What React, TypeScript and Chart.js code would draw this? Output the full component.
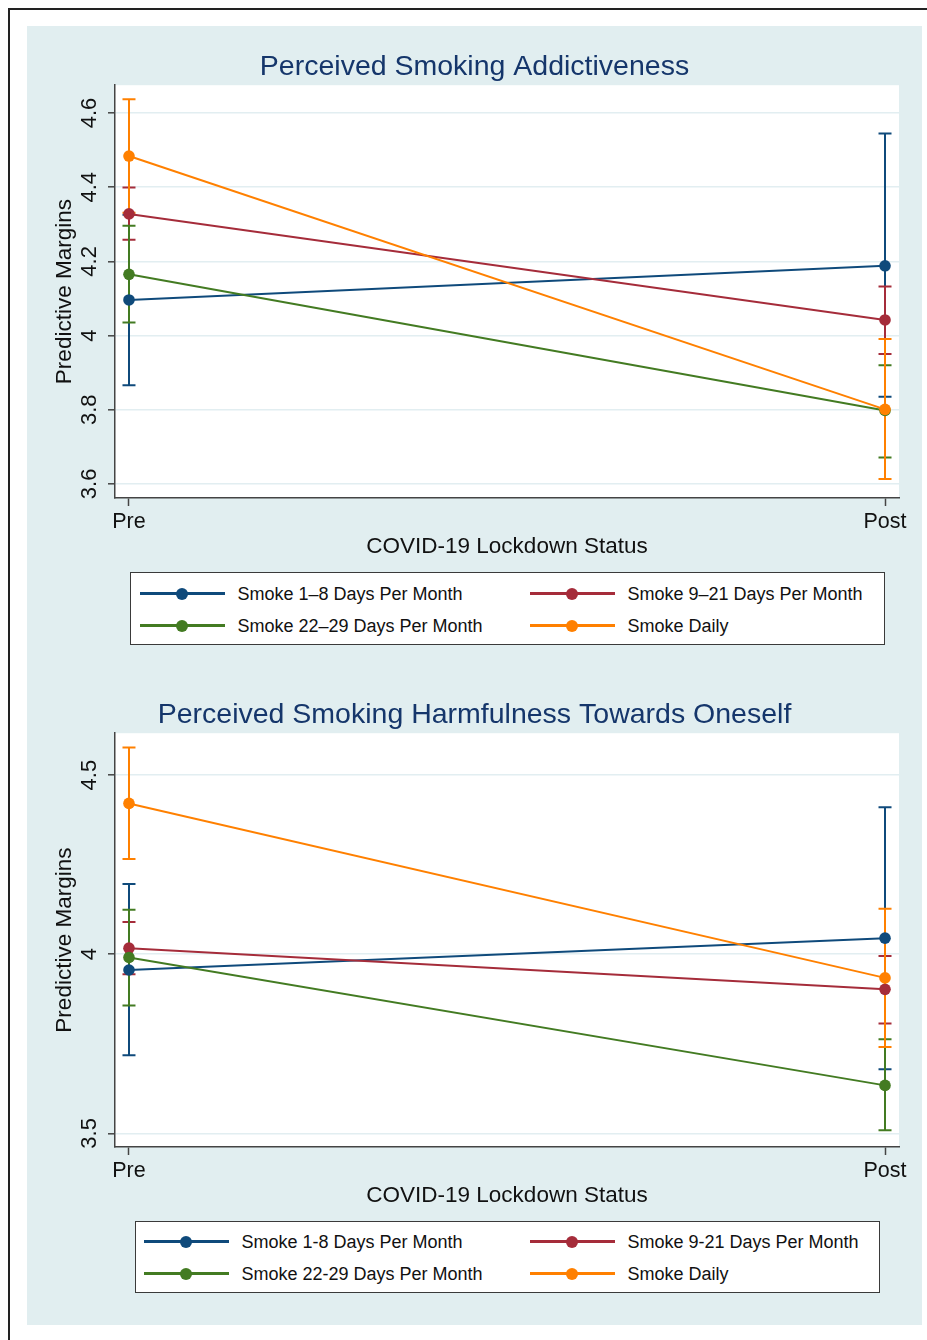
import React, { useEffect, useRef } from 'react';
import { Chart, registerables } from 'chart.js';

Chart.register(...registerables);

const FONT = '"Liberation Sans", Arial, Helvetica, sans-serif';
Chart.defaults.font.family = FONT;

const periods = ['Pre', 'Post'];
const seriesColors = ['#0f4a7b', '#a52c3a', '#437b22', '#ff8000'];

const namesTop = ['Smoke 1–8 Days Per Month', 'Smoke 9–21 Days Per Month', 'Smoke 22–29 Days Per Month', 'Smoke Daily'];
const namesBottom = ['Smoke 1-8 Days Per Month', 'Smoke 9-21 Days Per Month', 'Smoke 22-29 Days Per Month', 'Smoke Daily'];

// Perceived Smoking Addictiveness — values per series: [Pre, Post]
const addictMargin = [[4.096, 4.188], [4.328, 4.042], [4.165, 3.798], [4.484, 3.801]];
const addictLower = [[3.866, 3.835], [4.258, 3.950], [4.035, 3.671], [4.331, 3.613]];
const addictUpper = [[4.326, 4.545], [4.399, 4.132], [4.296, 3.920], [4.637, 3.991]];
const addictTicks = [3.6, 3.8, 4, 4.2, 4.4, 4.6];

// Perceived Smoking Harmfulness Towards Oneself — values per series: [Pre, Post]
const harmMargin = [[3.956, 4.045], [4.017, 3.902], [3.991, 3.634], [4.421, 3.934]];
const harmLower = [[3.718, 3.679], [3.944, 3.807], [3.857, 3.509], [4.266, 3.741]];
const harmUpper = [[4.196, 4.410], [4.090, 3.995], [4.124, 3.763], [4.577, 4.127]];
const harmTicks = [3.5, 4, 4.5];

const plotBg = {
  id: 'plotBg',
  beforeDraw(chart: any) {
    const { ctx, chartArea } = chart;
    ctx.save();
    ctx.fillStyle = '#ffffff';
    ctx.fillRect(chartArea.left, chartArea.top, chartArea.right - chartArea.left, chartArea.bottom - chartArea.top);
    ctx.restore();
  },
};

function MarginsChart(props: any) {
  const { left, top, height, title, names, margin, lower, upper, yMin, yMax, yTicks } = props;
  const ref = useRef<HTMLCanvasElement>(null);
  useEffect(() => {
    const n = names.length;
    const datasets: any[] = [];
    names.forEach((name: string, i: number) => {
      datasets.push({
        label: name,
        data: periods.map((_, j) => ({ x: j, y: margin[i][j] })),
        borderColor: seriesColors[i],
        backgroundColor: seriesColors[i],
        pointBackgroundColor: seriesColors[i],
        pointBorderColor: seriesColors[i],
        pointBorderWidth: 0,
        pointRadius: 5.8,
        borderWidth: 2,
        order: n - 1 - i,
      });
    });
    names.forEach((name: string, i: number) => {
      const pts: any[] = [];
      periods.forEach((_, j) => {
        if (j > 0) pts.push({ x: j - 0.5, y: null });
        pts.push({ x: j, y: lower[i][j] });
        pts.push({ x: j, y: upper[i][j] });
      });
      datasets.push({
        label: name + ' CI',
        data: pts,
        borderColor: seriesColors[i],
        backgroundColor: seriesColors[i],
        borderWidth: 2,
        pointStyle: 'line',
        pointRadius: 6.5,
        pointBorderWidth: 2,
        pointBorderColor: seriesColors[i],
        pointBackgroundColor: seriesColors[i],
        spanGaps: false,
        order: 2 * n - 1 - i,
      });
    });

    const chart = new Chart(ref.current as HTMLCanvasElement, {
      type: 'line',
      data: { datasets },
      options: {
        responsive: false,
        animation: false,
        events: [],
        layout: { padding: { left: 0, right: 0, top: 0, bottom: 0 } },
        plugins: {
          legend: { display: false },
          tooltip: { enabled: false },
          title: {
            display: true,
            text: title,
            color: '#15366b',
            font: { size: 28.5, weight: 'normal', family: FONT },
            padding: { top: 23.6, bottom: 1.4 },
          },
        },
        scales: {
          x: {
            type: 'linear',
            min: -0.0185,
            max: 1.0185,
            bounds: 'data',
            afterBuildTicks: (s: any) => {
              s.ticks = periods.map((_, j) => ({ value: j }));
            },
            afterFit: (s: any) => {
              s.height = 68;
            },
            ticks: {
              callback: (v: any) => periods[v],
              color: '#111',
              font: { size: 21.5 },
              padding: 3,
              maxRotation: 0,
              autoSkip: false,
            },
            grid: { drawOnChartArea: false, tickLength: 8, tickColor: '#444', tickWidth: 1.5 },
            border: { color: '#444', width: 1.5 },
            title: {
              display: true,
              text: 'COVID-19 Lockdown Status',
              color: '#111',
              font: { size: 22.5 },
              padding: { top: 0, bottom: 5.5 },
            },
          },
          y: {
            type: 'linear',
            min: yMin,
            max: yMax,
            bounds: 'data',
            afterBuildTicks: (s: any) => {
              s.ticks = yTicks.map((v: number) => ({ value: v }));
            },
            afterFit: (s: any) => {
              s.width = 88;
            },
            ticks: {
              callback: (v: any) => String(v),
              minRotation: 90,
              maxRotation: 90,
              crossAlign: 'center',
              padding: 2.7,
              autoSkip: false,
              color: '#111',
              font: { size: 22 },
            },
            grid: { color: '#e2eef1', lineWidth: 1.6, tickLength: 7, tickColor: '#444', tickWidth: 1.5 },
            border: { color: '#444', width: 1.5 },
            title: {
              display: true,
              text: 'Predictive Margins',
              color: '#111',
              font: { size: 22.5 },
              padding: { top: 24.5, bottom: 0 },
            },
          },
          yRight: {
            type: 'linear',
            position: 'right',
            min: 0,
            max: 1,
            afterFit: (s: any) => {
              s.width = 23;
            },
            ticks: { display: false },
            grid: { display: false, drawOnChartArea: false, drawTicks: false },
            border: { display: false },
            title: { display: false },
          },
        },
      } as any,
      plugins: [plotBg],
    });
    return () => chart.destroy();
  }, []);
  return (
    <canvas
      ref={ref}
      width={895}
      height={height}
      style={{ position: 'absolute', left, top, width: 895, height, display: 'block' }}
    />
  );
}

function Legend(props: any) {
  const { left, top, width, height, names, rowY, colX } = props;
  return (
    <div
      style={{
        position: 'absolute',
        left,
        top,
        width,
        height,
        boxSizing: 'border-box',
        border: '1.5px solid #3a3a3a',
        background: '#ffffff',
      }}
    >
      {names.map((name: string, i: number) => {
        const row = Math.floor(i / 2);
        const col = i % 2;
        const x = colX[col] - 1.5;
        const y = rowY[row] - 1.5;
        const c = seriesColors[i];
        return (
          <React.Fragment key={i}>
            <div style={{ position: 'absolute', left: x, top: y - 1.25, width: 85, height: 2.5, background: c }} />
            <div
              style={{
                position: 'absolute',
                left: x + 42 - 6,
                top: y - 6,
                width: 12,
                height: 12,
                borderRadius: '50%',
                background: c,
              }}
            />
            <div
              style={{
                position: 'absolute',
                left: x + 98,
                top: y - 12,
                height: 24,
                lineHeight: '24px',
                fontSize: 18,
                color: '#111',
                whiteSpace: 'nowrap',
                fontFamily: FONT,
              }}
            >
              {name}
            </div>
          </React.Fragment>
        );
      })}
    </div>
  );
}

export default function App() {
  return (
    <div
      style={{
        position: 'absolute',
        left: 0,
        top: 0,
        width: 927,
        height: 1340,
        overflow: 'hidden',
        background: '#ffffff',
        fontFamily: FONT,
      }}
    >
      <div
        style={{
          position: 'absolute',
          left: 8,
          top: 8,
          width: 960,
          height: 1400,
          borderLeft: '2px solid #222',
          borderTop: '2px solid #222',
        }}
      />
      <div style={{ position: 'absolute', left: 27, top: 26, width: 895, height: 1299, background: '#e1eef0' }} />
      <MarginsChart
        left={27}
        top={26}
        height={540}
        title="Perceived Smoking Addictiveness"
        names={namesTop}
        margin={addictMargin}
        lower={addictLower}
        upper={addictUpper}
        yMin={3.562}
        yMax={4.675}
        yTicks={addictTicks}
      />
      <Legend left={130} top={572} width={755} height={73} names={namesTop} rowY={[22, 54]} colX={[10, 400]} />
      <MarginsChart
        left={27}
        top={674}
        height={541}
        title="Perceived Smoking Harmfulness Towards Oneself"
        names={namesBottom}
        margin={harmMargin}
        lower={harmLower}
        upper={harmUpper}
        yMin={3.462}
        yMax={4.617}
        yTicks={harmTicks}
      />
      <Legend left={135} top={1221} width={745} height={72} names={namesBottom} rowY={[21, 53]} colX={[9, 395]} />
    </div>
  );
}
